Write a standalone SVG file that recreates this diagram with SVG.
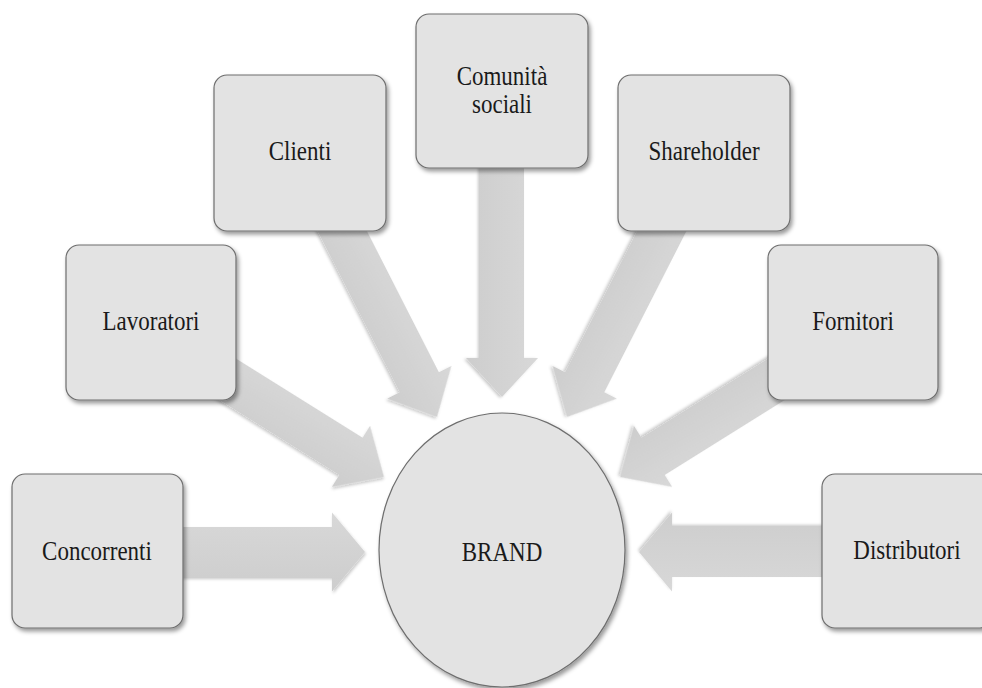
<svg xmlns="http://www.w3.org/2000/svg" width="982" height="688" viewBox="0 0 982 688">
<style>
.box{fill:#e3e3e3;stroke:#6e6e6e;stroke-width:1.2;filter:url(#sh)}
.arr{fill:url(#ag);filter:url(#ash)}
.lbl{font-family:'Liberation Serif','Times New Roman',serif;font-size:23px;fill:#1a1a1a;text-anchor:middle}
</style>
<defs>
<filter id="sh" x="-20%" y="-20%" width="140%" height="140%">
<feDropShadow dx="2" dy="3" stdDeviation="2" flood-color="#000" flood-opacity="0.4"/>
</filter>
<filter id="ash" x="-20%" y="-20%" width="140%" height="140%">
<feDropShadow dx="1" dy="2" stdDeviation="1.5" flood-color="#000" flood-opacity="0.22"/>
</filter>
<linearGradient id="ag" x1="0" y1="0" x2="0" y2="1">
<stop offset="0" stop-color="#d8d8d8"/>
<stop offset="1" stop-color="#cdcdcd"/>
</linearGradient>
<path id="diag" d="M-260,-22 L-39,-22 L-39,-36 L0,0 L-39,36 L-39,22 L-260,22 Z"/>
<path id="horiz" d="M-265,-25 L-33,-25 L-33,-39.5 L0,0 L-33,39.5 L-33,25 L-265,25 Z"/>
</defs>
<rect width="982" height="688" fill="#ffffff"/>
<g id="connectors">
<use href="#horiz" class="arr" transform="translate(365,552)"/>
<use href="#horiz" class="arr" transform="translate(639,552) rotate(180)"/>
<use href="#diag" class="arr" transform="translate(384,477) rotate(32)"/>
<use href="#diag" class="arr" transform="translate(620,477) rotate(148)"/>
<use href="#diag" class="arr" transform="translate(437,417) rotate(63)"/>
<use href="#diag" class="arr" transform="translate(567,417) rotate(117)"/>
<use href="#diag" class="arr" transform="translate(502,397) rotate(90)"/>
</g>
<g id="brand">
<ellipse class="box" cx="502" cy="550" rx="123" ry="137"/>
<text class="lbl" transform="translate(502,561) scale(1,1.18)">BRAND</text>
</g>
<g id="concorrenti">
<rect class="box" x="12" y="474" width="171" height="154" rx="13"/>
<text class="lbl" transform="translate(97,560) scale(1,1.18)">Concorrenti</text>
</g>
<g id="distributori">
<rect class="box" x="822" y="474" width="171" height="154" rx="13"/>
<text class="lbl" transform="translate(907,559) scale(1,1.18)">Distributori</text>
</g>
<g id="lavoratori">
<rect class="box" x="66" y="245" width="170" height="155" rx="13"/>
<text class="lbl" transform="translate(151,330) scale(1,1.18)">Lavoratori</text>
</g>
<g id="fornitori">
<rect class="box" x="768" y="245" width="170" height="155" rx="13"/>
<text class="lbl" transform="translate(853,330) scale(1,1.18)">Fornitori</text>
</g>
<g id="clienti">
<rect class="box" x="214" y="75" width="172" height="156" rx="13"/>
<text class="lbl" transform="translate(300,160) scale(1,1.18)">Clienti</text>
</g>
<g id="shareholder">
<rect class="box" x="618" y="75" width="172" height="156" rx="13"/>
<text class="lbl" transform="translate(704,160) scale(1,1.18)">Shareholder</text>
</g>
<g id="comunita">
<rect class="box" x="416" y="14" width="172" height="154" rx="13"/>
<text class="lbl" transform="translate(502,85) scale(1,1.18)">Comunità</text>
<text class="lbl" transform="translate(502,113) scale(1,1.18)">sociali</text>
</g>
</svg>
